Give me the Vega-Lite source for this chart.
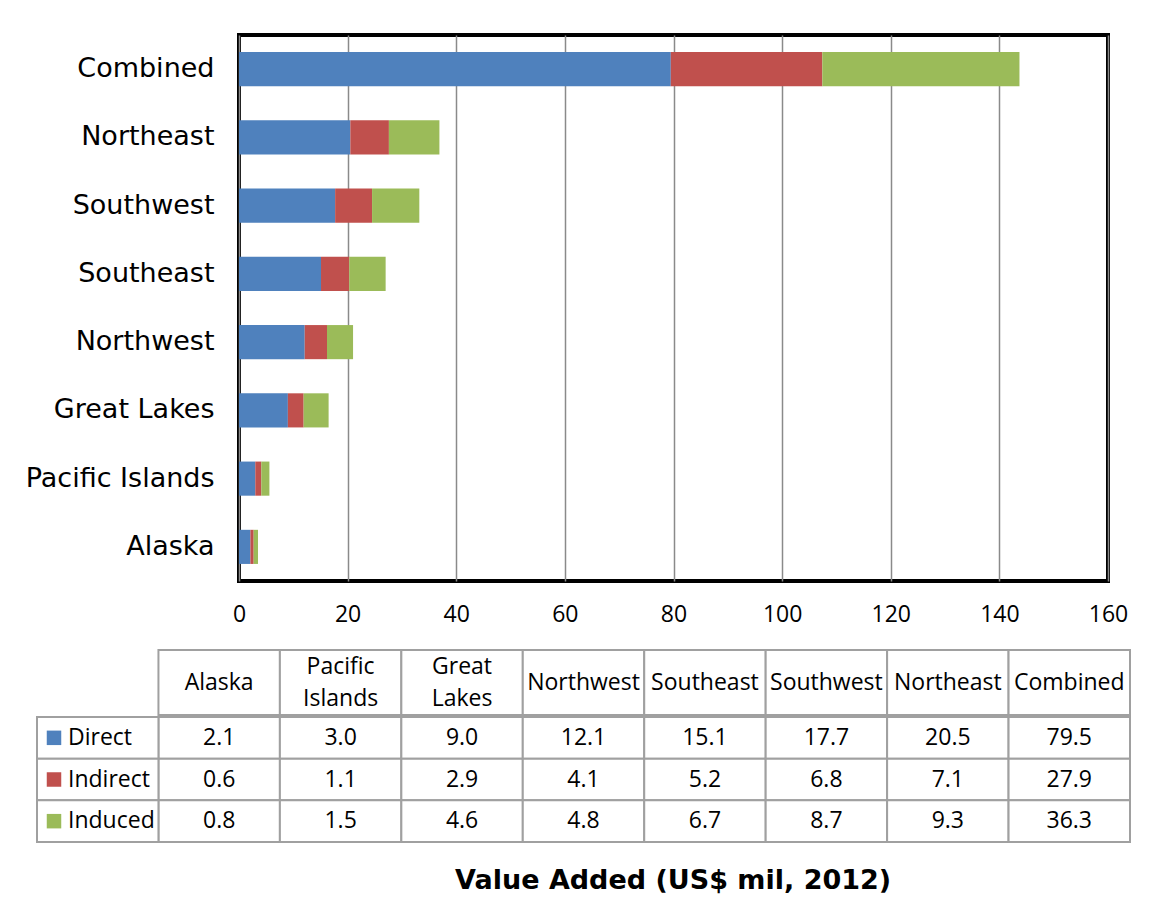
{
  "$schema": "https://vega.github.io/schema/vega-lite/v6.json",
  "padding": {"left": 23, "top": 33, "right": 20, "bottom": 20},
  "background": "white",
  "config": {"view": {"stroke": null}},
  "spacing": 21,
  "datasets": {
    "vals": [
      {"region": "Alaska", "series": "Direct", "value": 2.1},
      {"region": "Alaska", "series": "Indirect", "value": 0.6},
      {"region": "Alaska", "series": "Induced", "value": 0.8},
      {"region": "Pacific Islands", "series": "Direct", "value": 3.0},
      {"region": "Pacific Islands", "series": "Indirect", "value": 1.1},
      {"region": "Pacific Islands", "series": "Induced", "value": 1.5},
      {"region": "Great Lakes", "series": "Direct", "value": 9.0},
      {"region": "Great Lakes", "series": "Indirect", "value": 2.9},
      {"region": "Great Lakes", "series": "Induced", "value": 4.6},
      {"region": "Northwest", "series": "Direct", "value": 12.1},
      {"region": "Northwest", "series": "Indirect", "value": 4.1},
      {"region": "Northwest", "series": "Induced", "value": 4.8},
      {"region": "Southeast", "series": "Direct", "value": 15.1},
      {"region": "Southeast", "series": "Indirect", "value": 5.2},
      {"region": "Southeast", "series": "Induced", "value": 6.7},
      {"region": "Southwest", "series": "Direct", "value": 17.7},
      {"region": "Southwest", "series": "Indirect", "value": 6.8},
      {"region": "Southwest", "series": "Induced", "value": 8.7},
      {"region": "Northeast", "series": "Direct", "value": 20.5},
      {"region": "Northeast", "series": "Indirect", "value": 7.1},
      {"region": "Northeast", "series": "Induced", "value": 9.3},
      {"region": "Combined", "series": "Direct", "value": 79.5},
      {"region": "Combined", "series": "Indirect", "value": 27.9},
      {"region": "Combined", "series": "Induced", "value": 36.3}
    ],
    "regions": [
      {"col": "Alaska", "head": "Alaska"},
      {"col": "Pacific Islands", "head": "Pacific|Islands"},
      {"col": "Great Lakes", "head": "Great|Lakes"},
      {"col": "Northwest", "head": "Northwest"},
      {"col": "Southeast", "head": "Southeast"},
      {"col": "Southwest", "head": "Southwest"},
      {"col": "Northeast", "head": "Northeast"},
      {"col": "Combined", "head": "Combined"}
    ],
    "serieslist": [
      {"series": "Direct"},
      {"series": "Indirect"},
      {"series": "Induced"}
    ]
  },
  "title": {
    "text": "Value Added (US$ mil, 2012)",
    "orient": "bottom",
    "anchor": "middle",
    "font": "DejaVu Sans",
    "fontSize": 27,
    "fontWeight": "bold",
    "color": "black",
    "dx": 96,
    "offset": 25
  },
  "vconcat": [
    {
      "width": 869,
      "height": 546,
      "view": {"stroke": "black", "strokeWidth": 4},
      "data": {"name": "vals"},
      "mark": {"type": "bar"},
      "encoding": {
        "y": {
          "field": "region",
          "type": "nominal",
          "sort": ["Combined", "Northeast", "Southwest", "Southeast", "Northwest", "Great Lakes", "Pacific Islands", "Alaska"],
          "scale": {"paddingInner": 0.5, "paddingOuter": 0.25},
          "axis": {"title": null, "domain": false, "ticks": false, "labelFont": "DejaVu Sans", "labelFontSize": 27, "labelColor": "black", "labelPadding": 25, "labelLimit": 400}
        },
        "x": {
          "field": "value",
          "type": "quantitative",
          "stack": "zero",
          "scale": {"domain": [0, 160], "nice": false},
          "axis": {"title": null, "values": [0, 20, 40, 60, 80, 100, 120, 140, 160], "domain": false, "ticks": false, "grid": true, "gridColor": "#8a8a8a", "gridWidth": 1.5, "labelFont": "Open Sans", "labelFontSize": 23, "labelColor": "black", "labelPadding": 22, "labelFlush": false}
        },
        "color": {
          "field": "series",
          "type": "nominal",
          "scale": {"domain": ["Direct", "Indirect", "Induced"], "range": ["#4F81BD", "#C0504D", "#9BBB59"]},
          "legend": null
        }
      }
    },
    {
      "spacing": 0,
      "vconcat": [
        {
          "width": 891,
          "height": 65,
          "data": {"name": "regions"},
          "encoding": {
            "x": {
              "field": "col",
              "type": "nominal",
              "sort": null,
              "scale": {"domain": ["_lbl", "Alaska", "Pacific Islands", "Great Lakes", "Northwest", "Southeast", "Southwest", "Northeast", "Combined"], "range": [-202, 891], "paddingInner": 0, "paddingOuter": 0},
              "axis": null
            }
          },
          "layer": [
            {"mark": {"type": "rect", "fill": "white", "stroke": "#a0a0a0", "strokeWidth": 2}},
            {
              "transform": [{"filter": "indexof(datum.head, '|') < 0"}],
              "mark": {"type": "text", "font": "Open Sans", "fontSize": 23, "color": "black", "baseline": "middle"},
              "encoding": {"text": {"field": "head"}}
            },
            {
              "transform": [{"filter": "indexof(datum.head, '|') >= 0"}],
              "mark": {"type": "text", "font": "Open Sans", "fontSize": 23, "lineBreak": "|", "lineHeight": 32, "dy": -16, "color": "black", "baseline": "middle"},
              "encoding": {"text": {"field": "head"}}
            }
          ]
        },
        {
          "width": 891,
          "height": 125,
          "layer": [
            {
              "data": {"name": "vals"},
              "mark": {"type": "rect", "fill": "white", "stroke": "#a0a0a0", "strokeWidth": 2},
              "encoding": {
                "x": {"field": "region", "type": "nominal", "scale": {"domain": ["_lbl", "Alaska", "Pacific Islands", "Great Lakes", "Northwest", "Southeast", "Southwest", "Northeast", "Combined"], "range": [-202, 891], "paddingInner": 0, "paddingOuter": 0}, "axis": null},
                "y": {"field": "series", "type": "nominal", "scale": {"domain": ["Direct", "Indirect", "Induced"], "paddingInner": 0, "paddingOuter": 0}, "axis": null}
              }
            },
            {
              "data": {"name": "vals"},
              "mark": {"type": "text", "font": "Open Sans", "fontSize": 23, "color": "black", "baseline": "middle"},
              "encoding": {
                "x": {"field": "region", "type": "nominal"},
                "y": {"field": "series", "type": "nominal"},
                "text": {"field": "value", "type": "quantitative", "format": ".1f"}
              }
            },
            {
              "data": {"name": "serieslist"},
              "mark": {"type": "rect", "fill": "white", "stroke": "#a0a0a0", "strokeWidth": 2},
              "encoding": {
                "x": {"datum": "_lbl", "type": "nominal"},
                "y": {"field": "series", "type": "nominal"}
              }
            },
            {
              "data": {"name": "serieslist"},
              "mark": {"type": "square", "size": 210, "opacity": 1, "filled": true, "xOffset": 17},
              "encoding": {
                "x": {"datum": "_lbl", "type": "nominal", "bandPosition": 0},
                "y": {"field": "series", "type": "nominal"},
                "color": {"field": "series", "type": "nominal", "scale": {"domain": ["Direct", "Indirect", "Induced"], "range": ["#4F81BD", "#C0504D", "#9BBB59"]}, "legend": null}
              }
            },
            {
              "data": {"name": "serieslist"},
              "mark": {"type": "text", "font": "Open Sans", "fontSize": 23, "color": "black", "baseline": "middle", "align": "left", "dx": 31},
              "encoding": {
                "x": {"datum": "_lbl", "type": "nominal", "bandPosition": 0},
                "y": {"field": "series", "type": "nominal"},
                "text": {"field": "series"}
              }
            }
          ]
        }
      ]
    }
  ]
}
